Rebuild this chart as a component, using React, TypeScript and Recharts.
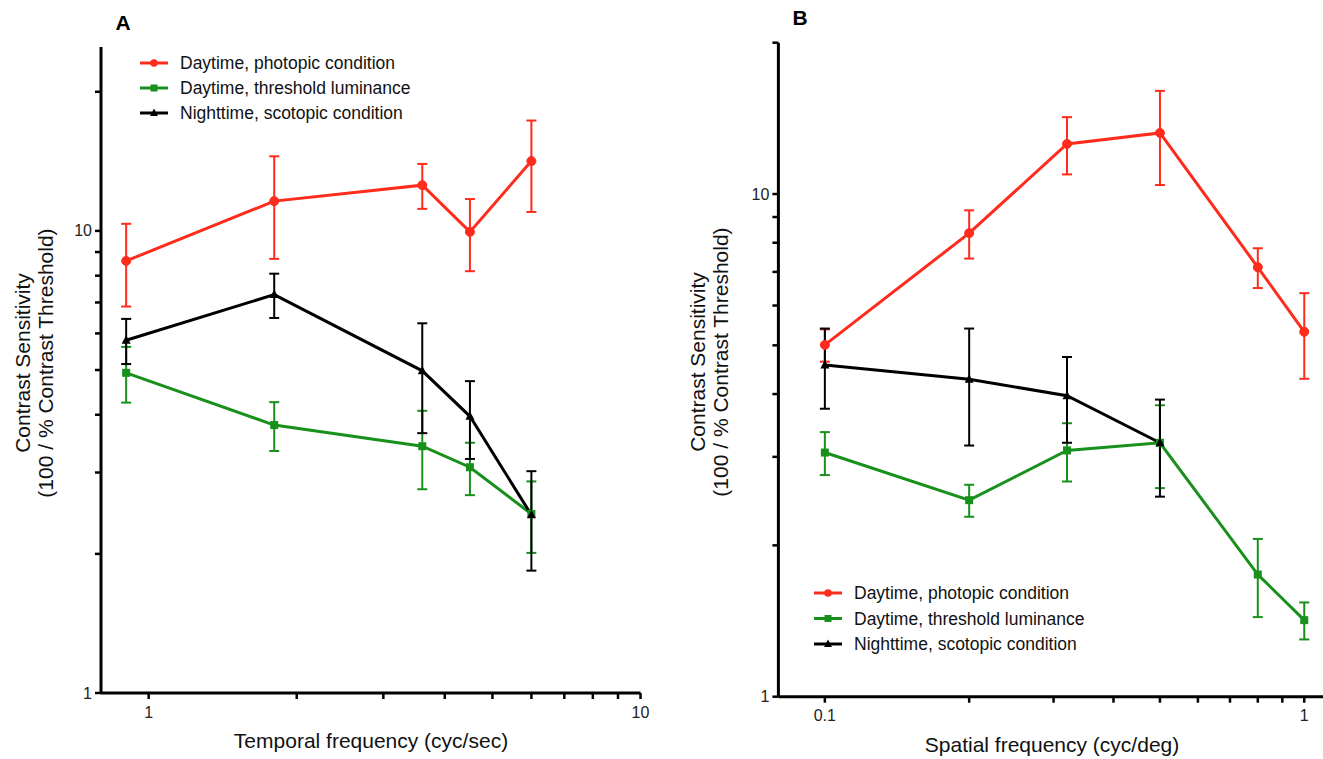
import React from 'react';
import { LineChart, Line, XAxis, YAxis, ErrorBar } from 'recharts';

const RED = '#ff2b1c';
const GREEN = '#18901c';
const BLACK = '#000000';
const FONT = '"Liberation Sans", Arial, Helvetica, sans-serif';

// ---------- Panel A : temporal frequency ----------
const tempFreq = [0.9, 1.8, 3.6, 4.5, 6];
const aPhotopic = [8.61, 11.6, 12.56, 9.95, 14.16];
const aPhotopicErr = [1.75, 2.9, 1.4, 1.77, 3.17];
const aThreshold = [4.93, 3.8, 3.42, 3.08, 2.44];
const aThresholdErr = [0.68, 0.46, 0.66, 0.4, 0.43];
const aScotopic = [5.8, 7.28, 4.98, 3.97, 2.43];
const aScotopicErr = [0.65, 0.8, 1.33, 0.76, 0.59];

// ---------- Panel B : spatial frequency ----------
const spatFreq = [0.1, 0.2, 0.32, 0.5, 0.8, 1];
const bPhotopic = [5.01, 8.36, 12.58, 13.23, 7.15, 5.32];
const bPhotopicErr = [0.37, 0.92, 1.64, 2.81, 0.65, 1.03];
const bThreshold = [3.06, 2.46, 3.09, 3.2, 1.75, 1.42];
const bThresholdErr = [0.3, 0.18, 0.41, 0.6, 0.31, 0.12];
const spatFreqScotopic = [0.1, 0.2, 0.32, 0.5];
const bScotopic = [4.57, 4.28, 3.97, 3.2];
const bScotopicErr = [0.83, 1.12, 0.77, 0.7];

// ---------- ticks ----------
const aXTicks = [1, 2, 3, 4, 5, 6, 7, 8, 9, 10];
const aXLabels = [1, 10];
const bXTicks = [0.1, 0.2, 0.3, 0.4, 0.5, 0.6, 0.7, 0.8, 0.9, 1];
const bXLabels = [0.1, 1];
const yTicks = [1, 2, 3, 4, 5, 6, 7, 8, 9, 10, 20];
const yLabels = [1, 10];

const seriesNames = [
  'Daytime, photopic condition',
  'Daytime, threshold luminance',
  'Nighttime, scotopic condition',
];

const rows = (xs: number[], ys: number[], es: number[]) =>
  xs.map((x, i) => ({ x, y: ys[i], e: es[i] }));

const squareDot = (p: any) => (
  <rect key={`sq-${p.index}`} x={p.cx - 4} y={p.cy - 4} width={8} height={8} fill={GREEN} />
);
const triDot = (p: any) => (
  <path
    key={`tr-${p.index}`}
    d={`M${p.cx},${p.cy - 5} L${p.cx + 4.5},${p.cy + 3.5} L${p.cx - 4.5},${p.cy + 3.5} Z`}
    fill={BLACK}
  />
);

const makeXTick = (labels: number[]) => (props: any) => {
  const { x, y, payload } = props;
  if (!labels.includes(payload.value)) return <g />;
  return (
    <text x={x} y={y + 11} textAnchor="middle" dominantBaseline="central" fontSize={16} fontFamily={FONT} fill="#222">
      {String(payload.value)}
    </text>
  );
};

const makeYTick = (labels: number[]) => (props: any) => {
  const { x, y, payload } = props;
  if (!labels.includes(payload.value)) return <g />;
  return (
    <text x={x} y={y} textAnchor="end" dominantBaseline="central" fontSize={16} fontFamily={FONT} fill="#222">
      {String(payload.value)}
    </text>
  );
};

const axisLine = { stroke: '#000', strokeWidth: 3 };
const tickLine = { stroke: '#000', strokeWidth: 2.5 };

function Panel(props: {
  left: number;
  width: number;
  margin: any;
  xDomain: [number, number];
  yDomain: [number, number];
  xTicks: number[];
  xLabels: number[];
  series: { data: any[]; color: string; dot: any }[];
}) {
  return (
    <div style={{ position: 'absolute', left: props.left, top: 0 }}>
      <LineChart width={props.width} height={759} margin={props.margin}>
        <XAxis
          dataKey="x"
          type="number"
          scale="log"
          domain={props.xDomain}
          ticks={props.xTicks}
          allowDataOverflow
          height={30}
          axisLine={axisLine}
          tickLine={tickLine}
          tickSize={6}
          tickMargin={2}
          tick={makeXTick(props.xLabels)}
          interval={0}
        />
        <YAxis
          type="number"
          scale="log"
          domain={props.yDomain}
          ticks={yTicks}
          allowDataOverflow
          width={40}
          axisLine={axisLine}
          tickLine={tickLine}
          tickSize={6}
          tickMargin={3}
          tick={makeYTick(yLabels)}
          interval={0}
        />
        {props.series.map((s, i) => (
          <Line
            key={i}
            data={s.data}
            dataKey="y"
            type="linear"
            stroke={s.color}
            strokeWidth={3}
            dot={s.dot}
            activeDot={false}
            isAnimationActive={false}
          >
            <ErrorBar dataKey="e" width={5} strokeWidth={2} stroke={s.color} direction="y" />
          </Line>
        ))}
      </LineChart>
    </div>
  );
}

function LegendBlock(props: { x: number; ys: number[] }) {
  const { x, ys } = props;
  const cx = x + 14;
  return (
    <g>
      {seriesNames.map((name, i) => {
        const y = ys[i];
        const color = [RED, GREEN, BLACK][i];
        return (
          <g key={name}>
            <line x1={x} y1={y} x2={x + 28} y2={y} stroke={color} strokeWidth={3} />
            {i === 0 && <circle cx={cx} cy={y} r={3.8} fill={color} />}
            {i === 1 && <rect x={cx - 3.5} y={y - 3.5} width={7} height={7} fill={color} />}
            {i === 2 && <path d={`M${cx},${y - 4.5} L${cx + 4},${y + 3} L${cx - 4},${y + 3} Z`} fill={color} />}
            <text x={x + 40} y={y} dominantBaseline="central" fontSize={17.5} fontFamily={FONT} fill="#111">
              {name}
            </text>
          </g>
        );
      })}
    </g>
  );
}

export default function App() {
  const seriesA = [
    { data: rows(tempFreq, aPhotopic, aPhotopicErr), color: RED, dot: { r: 4.5, fill: RED, stroke: RED, strokeWidth: 1 } },
    { data: rows(tempFreq, aThreshold, aThresholdErr), color: GREEN, dot: squareDot },
    { data: rows(tempFreq, aScotopic, aScotopicErr), color: BLACK, dot: triDot },
  ];
  const seriesB = [
    { data: rows(spatFreq, bPhotopic, bPhotopicErr), color: RED, dot: { r: 4.5, fill: RED, stroke: RED, strokeWidth: 1 } },
    { data: rows(spatFreq, bThreshold, bThresholdErr), color: GREEN, dot: squareDot },
    { data: rows(spatFreqScotopic, bScotopic, bScotopicErr), color: BLACK, dot: triDot },
  ];
  return (
    <div
      style={{
        position: 'absolute',
        left: 0,
        top: 0,
        width: 1323,
        height: 759,
        overflow: 'hidden',
        background: '#fff',
        fontFamily: FONT,
      }}
    >
      <Panel
        left={0}
        width={660}
        margin={{ top: 47, right: 19.5, left: 61, bottom: 36 }}
        xDomain={[0.8, 10]}
        yDomain={[1, 25]}
        xTicks={aXTicks}
        xLabels={aXLabels}
        series={seriesA}
      />
      <Panel
        left={660}
        width={670}
        margin={{ top: 42.7, right: 5.9, left: 78.4, bottom: 32.3 }}
        xDomain={[0.08, 1.1]}
        yDomain={[1, 20]}
        xTicks={bXTicks}
        xLabels={bXLabels}
        series={seriesB}
      />
      <svg
        width={1323}
        height={759}
        style={{ position: 'absolute', left: 0, top: 0, pointerEvents: 'none' }}
      >
        <text x={123} y={22} textAnchor="middle" dominantBaseline="central" fontSize={21} fontWeight="bold" fontFamily={FONT}>
          A
        </text>
        <text x={800} y={17} textAnchor="middle" dominantBaseline="central" fontSize={21} fontWeight="bold" fontFamily={FONT}>
          B
        </text>
        <g fontFamily={FONT} fontSize={21} fill="#111" textAnchor="middle">
          <text transform="translate(22,363) rotate(-90)" dominantBaseline="central">Contrast Sensitivity</text>
          <text transform="translate(45,363) rotate(-90)" dominantBaseline="central">(100 / % Contrast Threshold)</text>
          <text transform="translate(697,362) rotate(-90)" dominantBaseline="central">Contrast Sensitivity</text>
          <text transform="translate(720,362) rotate(-90)" dominantBaseline="central">(100 / % Contrast Threshold)</text>
          <text x={371} y={748}>Temporal frequency (cyc/sec)</text>
          <text x={1052} y={752}>Spatial frequency (cyc/deg)</text>
        </g>
        <LegendBlock x={140} ys={[63, 88, 113]} />
        <LegendBlock x={814} ys={[593, 618.5, 644]} />
      </svg>
    </div>
  );
}
